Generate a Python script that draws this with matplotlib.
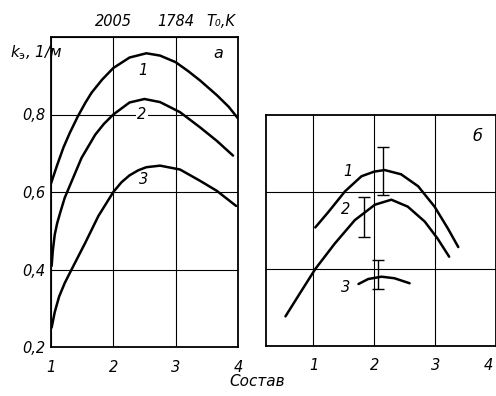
import numpy as np
import matplotlib.pyplot as plt

# --- панель а: k_э в зависимости от состава ---
x_a1 = [1.0, 1.1, 1.2, 1.3, 1.43, 1.55, 1.65, 1.82, 2.0, 2.26, 2.53, 2.75, 3.0, 3.2, 3.39,
        3.66, 3.85, 4.0]
k_a1 = [0.622, 0.67, 0.715, 0.752, 0.795, 0.83, 0.856, 0.89, 0.92, 0.947, 0.958, 0.952,
        0.935, 0.912, 0.888, 0.85, 0.82, 0.79]

x_a2 = [1.01, 1.03, 1.06, 1.1, 1.15, 1.22, 1.33, 1.49, 1.71, 1.85, 2.0, 2.26, 2.5, 2.75,
        3.07, 3.39, 3.66, 3.92]
k_a2 = [0.409, 0.45, 0.49, 0.52, 0.548, 0.585, 0.627, 0.688, 0.748, 0.776, 0.80, 0.831,
        0.84, 0.832, 0.806, 0.767, 0.732, 0.694]

x_a3 = [1.01, 1.06, 1.13, 1.22, 1.33, 1.55, 1.76, 2.0, 2.13, 2.26, 2.4, 2.53, 2.75, 3.07,
        3.39, 3.66, 3.97]
k_a3 = [0.25, 0.29, 0.33, 0.365, 0.40, 0.469, 0.538, 0.60, 0.625, 0.643, 0.656, 0.664,
        0.668, 0.658, 0.629, 0.603, 0.564]

# --- панель б ---
x_b1 = [1.03, 1.25, 1.52, 1.79, 2.0, 2.17, 2.44, 2.72, 2.99, 3.21, 3.38]
k_b1 = [0.508, 0.549, 0.602, 0.641, 0.653, 0.657, 0.646, 0.615, 0.562, 0.505, 0.457]

x_b2 = [0.54, 0.75, 1.03, 1.35, 1.68, 2.01, 2.28, 2.55, 2.83, 3.04, 3.23]
k_b2 = [0.277, 0.330, 0.40, 0.466, 0.527, 0.567, 0.580, 0.562, 0.523, 0.479, 0.432]

x_b3 = [1.74, 1.90, 2.12, 2.33, 2.58]
k_b3 = [0.361, 0.374, 0.380, 0.376, 0.363]

# разброс экспериментальных значений
err_x = [2.14, 1.83, 2.06]
err_lo = [0.593, 0.483, 0.347]
err_hi = [0.716, 0.588, 0.424]

temp_x = [2, 3]
temp_lbl = ['2005', '1784']
xticks = [1, 2, 3, 4]
yticks = [0.2, 0.4, 0.6, 0.8]

plt.rcParams['font.family'] = 'DejaVu Sans'
fs = 10.5
lw_c = 1.8

fig = plt.figure(figsize=(4.96, 3.96), dpi=100)
ax1 = fig.add_axes([51/496, 49/396, 187/496, 310/396])
ax2 = fig.add_axes([266/496, 50/396, 230/496, 231/396])

def style(ax):
    for s in ax.spines.values():
        s.set_linewidth(1.3)
    ax.tick_params(length=0, labelsize=fs)
    ax.grid(True, color='black', lw=0.8)
    ax.set_axisbelow(True)
    for t in ax.get_xticklabels() + ax.get_yticklabels():
        t.set_fontstyle('italic')

# панель а
for x, k in [(x_a1, k_a1), (x_a2, k_a2), (x_a3, k_a3)]:
    ax1.plot(x, k, color='black', lw=lw_c, solid_capstyle='round', solid_joinstyle='round')
ax1.set_xlim(1, 4)
ax1.set_ylim(0.2, 1.0)
ax1.set_xticks(xticks)
ax1.set_yticks(yticks + [1.0])
ax1.set_yticklabels([('%.1f' % v).replace('.', ',') for v in yticks] + [''])
ax1.tick_params(axis='x', pad=9)
ax1.tick_params(axis='y', pad=4)
style(ax1)
ax1.text(2.48, 0.914, '1', fontsize=fs, style='italic', ha='center', va='center')
ax1.text(2.46, 0.80, '2', fontsize=fs, style='italic', ha='center', va='center',
         bbox=dict(facecolor='white', edgecolor='none', pad=1))
ax1.text(2.49, 0.631, '3', fontsize=fs, style='italic', ha='center', va='center')
ax1.text(3.68, 0.958, 'a', fontsize=fs + 1, style='italic', ha='center', va='center')
for tx, tl in zip(temp_x, temp_lbl):
    ax1.text(tx, 1.039, tl, fontsize=fs, style='italic', ha='center', va='center')
ax1.text(3.72, 1.039, 'T₀,K', fontsize=fs, style='italic', ha='center', va='center')
fig.text(10/496, 1 - 53/396, r'$k_{\mathrm{э}}$, 1/м', fontsize=fs + 0.5, style='italic',
         ha='left', va='center')

# панель б
for x, k in [(x_b1, k_b1), (x_b2, k_b2), (x_b3, k_b3)]:
    ax2.plot(x, k, color='black', lw=lw_c, solid_capstyle='round', solid_joinstyle='round')
err_x = np.array(err_x)
lo = np.array(err_lo)
hi = np.array(err_hi)
ax2.errorbar(err_x, (lo + hi) / 2, yerr=(hi - lo) / 2, fmt='none', ecolor='black',
             elinewidth=1.0, capsize=4, capthick=1.0)
ax2.set_xlim(0.22, 4.0)
ax2.set_ylim(0.2, 0.8)
ax2.set_xticks(xticks)
ax2.set_xticklabels(['1', '2', '3', ''])
ax2.set_yticks([0.4, 0.6])
ax2.set_yticklabels([])
ax2.tick_params(axis='x', pad=9)
style(ax2)
# последняя метка у самого края рисунка
ax2.annotate('4', xy=(3.88, 0), xycoords=('data', 'axes fraction'), xytext=(0, -9),
             textcoords='offset points', ha='center', va='top', fontsize=fs,
             style='italic', annotation_clip=False)
ax2.text(1.56, 0.653, '1', fontsize=fs, style='italic', ha='center', va='center')
ax2.text(1.53, 0.555, '2', fontsize=fs, style='italic', ha='center', va='center')
ax2.text(1.52, 0.352, '3', fontsize=fs, style='italic', ha='center', va='center')
ax2.text(3.69, 0.743, 'б', fontsize=fs + 1, style='italic', ha='center', va='center')

fig.text(257/496, 1 - 382/396, 'Состав', fontsize=fs + 0.5, style='italic',
         ha='center', va='center')

fig.savefig('out.png', dpi=100)
